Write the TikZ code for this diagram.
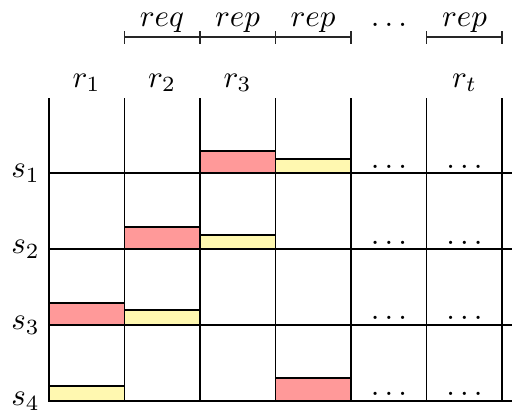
\documentclass[tikz,border=0pt]{standalone}
\definecolor{boxred}{RGB}{255,153,153}
\definecolor{boxyel}{RGB}{255,248,176}
\begin{document}
\begin{tikzpicture}[x=0.3226pt,y=-0.3226pt,
  font=\normalsize,
  gridline/.style={line width=0.36pt},
  redbox/.style={draw, line width=0.36pt, fill=boxred},
  yelbox/.style={draw, line width=0.36pt, fill=boxyel},
  bracket/.style={line width=0.4pt, black!85},
  lab/.style={anchor=base, inner sep=0pt}]
\useasboundingbox (0,0) rectangle (513,412);
% boxes
\draw[redbox] (200,151) rectangle (275.5,173);
\draw[yelbox] (275.5,159) rectangle (351,173);
\draw[redbox] (124.5,227) rectangle (200,249);
\draw[yelbox] (200,235) rectangle (275.5,249);
\draw[redbox] (49,303) rectangle (124.5,325);
\draw[yelbox] (124.5,310) rectangle (200,325);
\draw[yelbox] (49,386) rectangle (124.5,401);
\draw[redbox] (275.5,378) rectangle (351,401);
% grid
\foreach \x in {49,124.5,200,275.5,351,426.5,502}
  \draw[gridline] (\x,98) -- (\x,401);
\foreach \y in {173,249,325,401}
  \draw[gridline] (49,\y) -- (512,\y);
% column labels
\node[lab] (r1) at (86.5,87) {$r_1$};
\node[lab] (r2) at (162,87) {$r_2$};
\node[lab] (r3) at (237.5,87) {$r_3$};
\node[lab] (rt) at (464.5,87) {$r_t$};
% row labels
\node[lab] (s1) at (25.5,177.5) {$s_1$};
\node[lab] (s2) at (25.5,253.5) {$s_2$};
\node[lab] (s3) at (25.5,329.5) {$s_3$};
\node[lab] (s4) at (25.5,405.5) {$s_4$};
% dots in cells
\foreach \y [count=\i] in {168,244,319,395} {
  \node[lab] (da\i) at (389,\y) {$\ldots$};
  \node[lab] (db\i) at (464.5,\y) {$\ldots$};
}
% brackets
\foreach \a/\b in {124.5/200, 200/275.5, 275.5/351, 426.5/502} {
  \draw[bracket] (\a,37) -- (\b,37);
  \draw[bracket] (\a,31) -- (\a,44);
  \draw[bracket] (\b,31) -- (\b,44);
}
\node[lab] (q1) at (162,26) {$req$};
\node[lab] (p1) at (237.5,26) {$rep$};
\node[lab] (p2) at (313,26) {$rep$};
\node[lab] (dt) at (389,26) {$\ldots$};
\node[lab] (p3) at (464.5,26) {$rep$};
\end{tikzpicture}
\end{document}
